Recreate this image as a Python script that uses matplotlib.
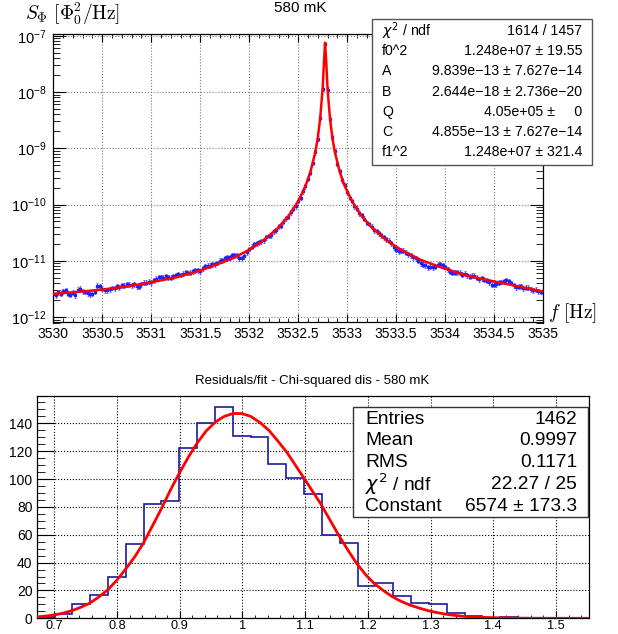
import numpy as np
import matplotlib
matplotlib.use('Agg')
import matplotlib.pyplot as plt
from matplotlib.ticker import MultipleLocator, LogLocator, FuncFormatter, NullFormatter, FixedLocator
from matplotlib.patches import Rectangle

plt.rcParams['font.family'] = ['Liberation Sans', 'DejaVu Sans']

# ---- top pad: measured spectrum (values in 1e-12 Phi0^2/Hz) ----
freq = np.linspace(3530, 3535, 201)
s_meas = np.array([
    2.52, 2.46, 2.77, 2.62, 2.91, 2.98, 2.59, 2.48, 2.70, 2.47,
    3.06, 3.20, 2.89, 2.80, 2.66, 2.53, 2.62, 2.80, 3.62, 3.58,
    3.20, 3.02, 2.99, 3.13, 3.30, 3.24, 3.52, 3.43, 3.68, 3.63,
    3.82, 3.78, 3.64, 3.81, 3.53, 3.47, 3.82, 4.10, 4.09, 4.26,
    4.20, 4.48, 4.79, 5.06, 5.07, 4.99, 5.33, 5.11, 5.03, 5.29,
    5.62, 5.83, 5.62, 5.89, 6.21, 6.09, 6.12, 6.57, 6.80, 6.76,
    6.57, 7.31, 8.06, 8.14, 8.16, 8.61, 8.61, 9.18, 10.06, 10.3,
    11.0, 11.7, 11.6, 12.6, 12.5, 12.5, 11.1, 11.2, 12.0, 14.1,
    16.3, 17.9, 19.5, 20.3, 21.4, 22.2, 23.3, 26.1, 27.7, 28.7,
    33.3, 34.8, 40.8, 42.2, 49.6, 56.8, 60.8, 73.1, 83.6, 94.1,
    117, 133, 172, 210, 287, 368, 557, 852, 1483, 3468,
    11500, 70000,
    11000, 3330, 1560, 886, 530, 387, 273, 223,
    164, 131, 116, 93.1, 84.5, 69.6, 64.5, 55.7, 47.1, 45.2,
    40.4, 34.8, 33.9, 30.8, 28.8, 26.4, 24.0, 22.9, 20.6, 17.3,
    15.6, 14.9, 15.2, 15.1, 14.0, 13.0, 12.7, 11.5, 11.1, 10.0,
    9.15, 8.5, 8.26, 7.73, 7.83, 7.65, 7.79, 8.53, 8.78, 8.29,
    7.78, 7.04, 6.43, 6.11, 6.11, 6.2, 6.12, 5.68, 5.87, 5.5,
    5.24, 5.41, 5.41, 5.0, 4.75, 4.85, 4.61, 4.42, 4.14, 3.78,
    3.74, 3.87, 4.07, 4.22, 4.35, 4.50, 4.33, 4.05, 3.70, 3.42,
    3.45, 3.52, 3.28, 3.31, 3.33, 3.11, 2.98, 3.08, 2.91, 2.80, 2.84,
]) * 1e-12

fit_f = [3530.0, 3530.25, 3530.5, 3530.75, 3531.0, 3531.25, 3531.5, 3531.67, 3531.84,
         3532.0, 3532.15, 3532.3, 3532.4, 3532.5, 3532.575, 3532.625, 3532.675, 3532.7,
         3532.725, 3532.75, 3532.7625, 3532.775, 3532.7875, 3532.8, 3532.825, 3532.85,
         3532.875, 3532.925, 3532.975, 3533.05, 3533.15, 3533.25, 3533.4, 3533.55,
         3533.75, 3534.0, 3534.25, 3534.5, 3534.75, 3535.0]
fit_s = np.array([2.58, 2.8, 3.08, 3.5, 4.15, 5.05, 6.7, 8.6, 11.2,
                  15.7, 23.3, 39.2, 62, 114, 214, 379, 852, 1513,
                  3400, 11500, 31600, 75000, 31600, 11500, 3400, 1513,
                  852, 379, 214, 114, 62, 39.2, 23.3, 15.7,
                  10.4, 7.2, 5.3, 4.3, 3.5, 2.85]) * 1e-12

top_stats = [(r'$\chi^{2}$ / ndf', '1614 / 1457'),
             ('f0^2', '1.248e+07 ± 19.55'),
             ('A', '9.839e\u221213 ± 7.627e\u221214'),
             ('B', '2.644e\u221218 ± 2.736e\u221220'),
             ('Q', '4.05e+05 ±     0'),
             ('C', '4.855e\u221213 ± 7.627e\u221214'),
             ('f1^2', '1.248e+07 ± 321.4')]

# ---- bottom pad: residual histogram ----
hist_edges = np.linspace(0.6718, 1.5531, 32)
hist_counts = [1, 3, 10, 17, 30, 53, 82, 84, 122, 140, 152, 131, 130, 111, 101, 89,
               60, 54, 23, 25, 16, 11, 10, 4, 2, 0, 1, 0, 0, 0, 0]

chi_x = [0.672, 0.686, 0.700, 0.714, 0.728, 0.742, 0.756, 0.770, 0.785, 0.799,
         0.813, 0.828, 0.842, 0.856, 0.871, 0.885, 0.899, 0.914, 0.928, 0.942,
         0.957, 0.971, 0.985, 0.999, 1.013, 1.028, 1.042, 1.056, 1.071, 1.085,
         1.099, 1.112, 1.125, 1.139, 1.153, 1.168, 1.182, 1.196, 1.210, 1.225,
         1.239, 1.253, 1.267, 1.282, 1.296, 1.310, 1.325, 1.339, 1.353, 1.368,
         1.382, 1.41, 1.44, 1.47, 1.50, 1.553]
chi_y = [1.0, 1.6, 2.4, 3.7, 5.5, 7.9, 10.8, 15.0, 20.4, 27,
         35, 44, 54, 66, 79, 92, 104, 116, 126, 134.5,
         141, 145, 147, 147, 145, 140.5, 135, 127.5, 119, 109.5,
         100, 91, 82, 71, 60, 49, 39.5, 31.5, 25, 19.8,
         15.5, 12.2, 9.5, 7.3, 5.5, 4.1, 2.9, 2.05, 1.4, 1.0,
         0.7, 0.32, 0.13, 0.05, 0.02, 0.0]
hist_yticks = [0, 20, 40, 60, 80, 100, 120, 140]

bot_stats = [('Entries', '1462'), ('Mean', '0.9997'), ('RMS', '0.1171'),
             (r'$\chi^{2}$ / ndf', '22.27 / 25'), ('Constant', '6574 ± 173.3')]

W, H = 618, 634
fig = plt.figure(figsize=(W / 100, H / 100), dpi=100)


def fx(x):
    return x / W


def fy(y):
    return 1 - y / H


fmt_g = FuncFormatter(lambda v, p: f'{v:g}')

# top pad
ax1 = fig.add_axes([fx(53.3), fy(322.5), fx(543) - fx(53.3), fy(34.3) - fy(322.5)])
ax1.set_yscale('log')
ax1.errorbar(freq, s_meas, yerr=0.1 * s_meas, fmt='s', ms=1.8, color='#2020ff',
             mec='#2020ff', ecolor='#6060ff', elinewidth=0.7, capsize=1.0, capthick=0.6, zorder=2)
ax1.plot(fit_f, fit_s, color='#ff0000', lw=1.8, zorder=3)
ax1.set_xlim(3530, 3535)
ax1.set_ylim(0.8e-12, 1.06e-7)
ax1.xaxis.set_major_locator(MultipleLocator(0.5))
ax1.xaxis.set_minor_locator(MultipleLocator(0.1))
ax1.xaxis.set_major_formatter(fmt_g)
ax1.yaxis.set_major_locator(LogLocator(base=10, numticks=12))
ax1.yaxis.set_minor_locator(LogLocator(base=10, subs=np.arange(2, 10), numticks=12))
ax1.yaxis.set_minor_formatter(NullFormatter())
ax1.grid(True, which='major', ls=':', color='#777777', lw=0.8)
ax1.tick_params(which='both', direction='in', top=True, right=True)
ax1.tick_params(axis='y', which='major', length=9.5, pad=5, labelsize=10.5)
ax1.tick_params(axis='y', which='minor', length=4.7, labelleft=False)
ax1.tick_params(axis='x', which='major', length=6, pad=3, labelsize=10)
ax1.tick_params(axis='x', which='minor', length=3, labelbottom=False)
for sp in ax1.spines.values():
    sp.set_linewidth(0.9)

fig.text(fx(25), fy(14), r'$S_{\Phi}\ [\Phi_{0}^{2}/\mathrm{Hz}]$', fontsize=14,
         math_fontfamily='cm', va='center', ha='left')
fig.text(fx(548), fy(313), r'$f\ [\mathrm{Hz}]$', fontsize=14,
         math_fontfamily='cm', va='center', ha='left')
fig.text(fx(300), fy(8), '580 mK', fontsize=11, ha='center', va='center')

# top stats box
fig.patches.append(Rectangle((fx(372.3), fy(165)), fx(592.3) - fx(372.3), fy(19.3) - fy(165),
                             transform=fig.transFigure, facecolor='white',
                             edgecolor='#555555', lw=1.0, zorder=5))
for k, (lab, val) in enumerate(top_stats):
    yy = fy(31 + k * 20.2)
    fig.text(fx(382), yy, lab, fontsize=10.2, ha='left', va='center', zorder=6)
    fig.text(fx(582), yy, val, fontsize=10.2, ha='right', va='center', zorder=6)

# bottom pad
ax2 = fig.add_axes([fx(36.7), fy(618.3), fx(589.3) - fx(36.7), fy(396) - fy(618.3)])
ax2.stairs(hist_counts, hist_edges, color='#1a1aa0', lw=1.2, zorder=2)
ax2.plot(chi_x, chi_y, color='#ff0000', lw=2, zorder=3)
ax2.set_xlim(hist_edges[0], hist_edges[-1])
ax2.set_ylim(0, 159.6)
ax2.xaxis.set_major_locator(MultipleLocator(0.1))
ax2.xaxis.set_minor_locator(MultipleLocator(0.02))
ax2.xaxis.set_major_formatter(fmt_g)
ax2.yaxis.set_major_locator(FixedLocator(hist_yticks))
ax2.yaxis.set_minor_locator(MultipleLocator(5))
ax2.grid(True, which='major', ls=':', color='black', lw=0.8)
ax2.tick_params(which='both', direction='in')
ax2.tick_params(axis='y', which='major', length=12, pad=3, labelsize=10)
ax2.tick_params(axis='y', which='minor', length=6, labelleft=False)
ax2.tick_params(axis='x', which='major', length=5, pad=1.5, labelsize=9.2)
ax2.tick_params(axis='x', which='minor', length=2.5, labelbottom=False)
for sp in ax2.spines.values():
    sp.set_linewidth(0.9)

fig.text(fx(312), fy(381), 'Residuals/fit - Chi-squared dis - 580 mK', fontsize=9.5,
         ha='center', va='center')

# bottom stats box
fig.patches.append(Rectangle((fx(352.7), fy(517.3)), fx(588.3) - fx(352.7), fy(407.3) - fy(517.3),
                             transform=fig.transFigure, facecolor='white',
                             edgecolor='#333333', lw=1.0, zorder=5))
for k, (lab, val) in enumerate(bot_stats):
    yy = fy(419 + k * 21.9)
    fig.text(fx(365), yy, lab, fontsize=13.8, ha='left', va='center', zorder=6)
    fig.text(fx(577), yy, val, fontsize=13.8, ha='right', va='center', zorder=6)

fig.savefig('out.png', dpi=100)
